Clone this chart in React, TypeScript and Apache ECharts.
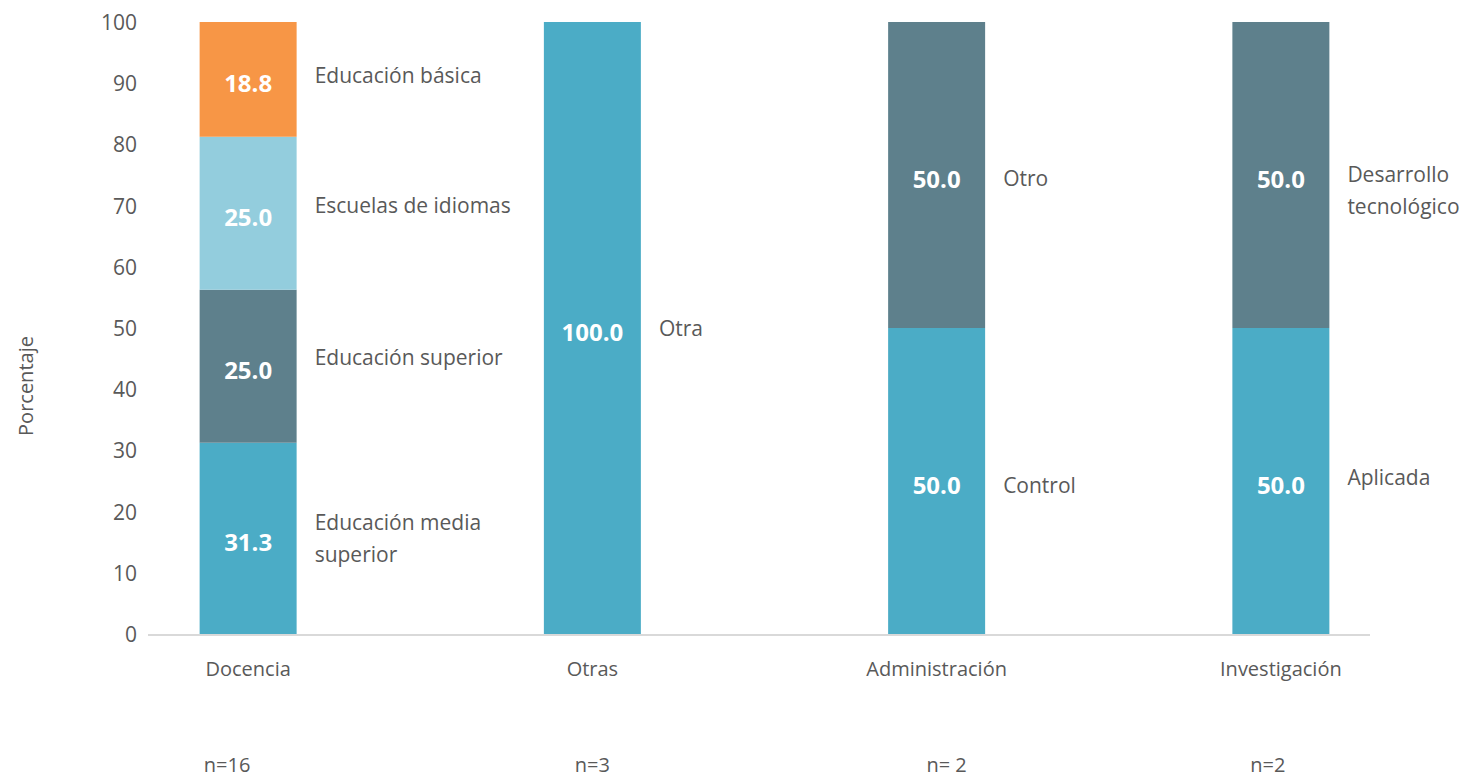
import React, { useEffect, useRef } from "react";
import * as echarts from "echarts";

const categories = ["Docencia", "Otras", "Administración", "Investigación"];
const sampleSizes = ["n=16", "n=3", "n= 2", "n=2"];

const layer1Values = [31.25, 100, 50, 50];
const layer1Names = ["Educación media\nsuperior", "Otra", "Control", "Aplicada"];
const layer2Values = [25, null, 50, 50];
const layer2Names = ["Educación superior", "", "Otro", "Desarrollo\ntecnológico"];
const layer3Values = [25, null, null, null];
const layer3Names = ["Escuelas de idiomas", "", "", ""];
const layer4Values = [18.75, null, null, null];
const layer4Names = ["Educación básica", "", "", ""];

const yMin = 0;
const yMax = 100;
const yInterval = 10;

const FONT = "'Open Sans', sans-serif";
const TEXT = "#595959";

const layers = [
  { values: layer1Values, names: layer1Names, color: "#4bacc6", nameOffsets: [[0, 0], [0, 0], [0, 4], [0, -4]] },
  { values: layer2Values, names: layer2Names, color: "#5e808c", nameOffsets: [[0, -9], [0, 0], [0, 3], [0, 15]] },
  { values: layer3Values, names: layer3Names, color: "#93cddd", nameOffsets: [[0, -8], [0, 0], [0, 0], [0, 0]] },
  { values: layer4Values, names: layer4Names, color: "#f79646", nameOffsets: [[0, -4], [0, 0], [0, 0], [0, 0]] },
];

export default function App() {
  const ref = useRef<HTMLDivElement>(null);
  useEffect(() => {
    if (!ref.current) return;
    const chart = echarts.init(ref.current, undefined, { renderer: "svg" });
    const valueSeries = layers.map((l, i) => ({
      type: "bar",
      name: "v" + i,
      stack: "values",
      barWidth: 97,
      barGap: "-100%",
      data: l.values,
      itemStyle: { color: l.color },
      label: {
        show: true,
        position: "inside",
        offset: [0, 3],
        color: "#ffffff",
        fontFamily: FONT,
        fontWeight: "bold",
        fontSize: 24,
        formatter: (p: any) => (p.value == null ? "" : Number(p.value).toFixed(1)),
      },
    }));
    const nameSeries = layers.map((l, i) => ({
      type: "bar",
      name: "n" + i,
      stack: "names",
      barWidth: 97,
      barGap: "-100%",
      silent: true,
      data: l.values.map((v, j) =>
        v == null
          ? null
          : { value: v, label: { offset: l.nameOffsets[j] } }
      ),
      itemStyle: { color: "rgba(0,0,0,0)" },
      label: {
        show: true,
        position: "right",
        distance: 18,
        align: "left",
        color: TEXT,
        fontFamily: FONT,
        fontSize: 21,
        lineHeight: 32,
        formatter: (p: any) => l.names[p.dataIndex] || "",
      },
    }));
    const base = { fontFamily: FONT, fontSize: 20, color: TEXT };
    const nRich: any = {
      c: { ...base, lineHeight: 50 },
      s: { ...base, lineHeight: 61 },
      n0: { ...base, lineHeight: 20, padding: [0, 42, 0, 0] },
      n1: { ...base, lineHeight: 20 },
      n2: { ...base, lineHeight: 20, padding: [0, 0, 0, 20] },
      n3: { ...base, lineHeight: 20, padding: [0, 26, 0, 0] },
    };
    chart.setOption({
      animation: false,
      grid: { left: 76, right: 26, top: 22, bottom: 145, containLabel: false },
      xAxis: {
        type: "category",
        data: categories,
        axisLine: { show: false },
        axisTick: { show: false },
        axisLabel: {
          margin: 9,
          interval: 0,
          rich: nRich,
          formatter: (v: string, idx: number) => `{c|${v}}\n{s| }\n{n${idx}|${sampleSizes[idx]}}`,
        },
      },
      yAxis: {
        type: "value",
        min: yMin,
        max: yMax,
        interval: yInterval,
        splitLine: { show: false },
        axisLine: { show: false },
        axisTick: { show: false },
        axisLabel: { margin: -61, color: TEXT, fontFamily: FONT, fontSize: 21 },
      },
      graphic: [
        {
          type: "line",
          shape: { x1: 148, y1: 635, x2: 1370, y2: 635 },
          style: { stroke: "#d9d9d9", lineWidth: 2 },
          z: 0,
        },
        {
          type: "text",
          x: 25,
          y: 386,
          rotation: Math.PI / 2,
          style: {
            text: "Porcentaje",
            fill: TEXT,
            font: `20px ${FONT}`,
            textAlign: "center",
            textVerticalAlign: "middle",
          },
        },
      ],
      series: [...valueSeries, ...nameSeries],
    });
    return () => chart.dispose();
  }, []);
  return (
    <div
      ref={ref}
      style={{ position: "absolute", left: 0, top: 0, width: 1479, height: 779, background: "#ffffff" }}
    />
  );
}
